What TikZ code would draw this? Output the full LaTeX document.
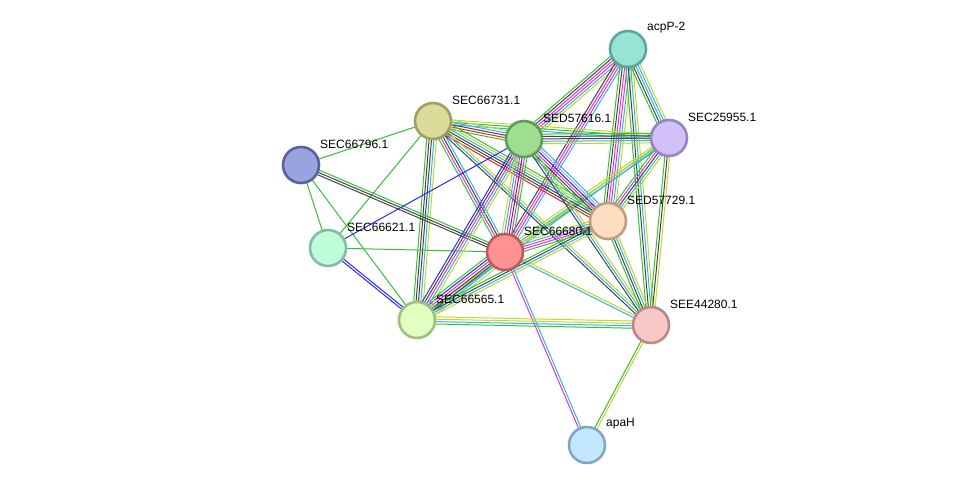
\documentclass[tikz,border=0pt]{standalone}
\usepackage{fontspec}
\setmainfont{Liberation Sans}
\usetikzlibrary{calc}
\pgfdeclarelayer{bg}
\pgfdeclarelayer{paper}
\pgfsetlayers{paper,bg,main}
\definecolor{eG}{HTML}{33C233}
\definecolor{eY}{HTML}{C4D62C}
\definecolor{eC}{HTML}{33B5E0}
\definecolor{eM}{HTML}{E033E0}
\definecolor{eK}{HTML}{444444}
\definecolor{eB}{HTML}{2A2AF0}
\definecolor{eR}{HTML}{F02222}
\definecolor{eL}{HTML}{AAA6F2}
\tikzset{
  prot/.style={circle, minimum size=36pt, inner sep=0pt, line width=2.6pt},
  plabel/.style={anchor=west, font=\fontsize{12}{12}\selectfont, inner sep=0pt, text=black},
  eline/.style={line width=1.0pt}
}
\newcommand\sedge[3]{%
  \foreach \c [count=\i] in {#3} {\xdef\nn{\i}}%
  \foreach \c [count=\i] in {#3} {%
    \pgfmathsetmacro\off{(\i-(\nn+1)/2)*2.4}%
    \draw[eline, color=e\c] ($(#1)!\off pt!90:(#2)$) -- ($(#2)!\off pt!-90:(#1)$);
  }%
}
\newcommand\prot[6]{% name, x, y, fill, draw, label
  \definecolor{#1F}{HTML}{#4}\definecolor{#1D}{HTML}{#5}%
  \node[prot, fill=#1F, draw=#1D] (#1) at (#2,#3) {};
  \node[plabel] (#1-l) at (#2+19,#3-21) {#6};
}
\begin{document}
\begin{tikzpicture}[x=1pt,y=-1pt]
\begin{pgfonlayer}{paper}
\fill[white] (0,0) rectangle (975,491);
\end{pgfonlayer}
\useasboundingbox (0,0) rectangle (975,491);
\prot{acp}{628}{49}{99E2D6}{5BA699}{acpP-2}
\prot{s731}{433}{121}{DDDB99}{A09F60}{SEC66731.1}
\prot{s616}{524}{139}{9FDD91}{5E9E56}{SED57616.1}
\prot{s955}{669}{138}{D2C0F8}{9784C2}{SEC25955.1}
\prot{s796}{301}{165}{99A3E0}{5762A0}{SEC66796.1}
\prot{s729}{608}{221}{FDDEC0}{BE9E7E}{SED57729.1}
\prot{s621}{328}{248}{C0FDDA}{80C0A0}{SEC66621.1}
\prot{s680}{505}{252}{FF9292}{C05A5A}{SEC66680.1}
\prot{s565}{417}{320}{E0FFC0}{A0C082}{SEC66565.1}
\prot{s280}{651}{325}{F8C8C8}{BB8888}{SEE44280.1}
\prot{apa}{587}{445}{C2E8FF}{80A8C2}{apaH}
\begin{pgfonlayer}{bg}
\sedge{acp}{s616}{G,K,M,M,C,Y}
\sedge{acp}{s680}{K,M,M,C}
\sedge{acp}{s729}{G,K,M,M,C,Y}
\sedge{acp}{s280}{G,K,C,Y}
\sedge{acp}{s955}{G,K,C,C,Y}
\sedge{s955}{s731}{Y,G,C}
\sedge{s955}{s616}{G,K,K,C,Y}
\sedge{s955}{s729}{G,M,K,C,Y}
\sedge{s955}{s680}{Y,C,G}
\sedge{s955}{s280}{G,K,Y}
\sedge{s955}{s565}{Y,C}
\sedge{s731}{s796}{G}
\sedge{s731}{s621}{G}
\sedge{s731}{s565}{G,K,K,C,Y}
\sedge{s731}{s680}{G,M,K,C}
\sedge{s731}{s616}{G,R,K,C,Y}
\sedge{s731}{s729}{R,K,K,C,Y,G}
\sedge{s731}{s280}{K,C,Y}
\sedge{s796}{s680}{K,K,G}
\sedge{s796}{s621}{G}
\sedge{s796}{s565}{G}
\sedge{s621}{s616}{B}
\sedge{s621}{s680}{G}
\sedge{s621}{s565}{B,B}
\sedge{s680}{s616}{G,M,K,M,C,Y}
\sedge{s680}{s729}{G,M,M,C,Y}
\sedge{s680}{s565}{G,B,M,K,K,C,Y}
\sedge{s680}{s280}{C,Y}
\sedge{s680}{apa}{M,C}
\sedge{s616}{s729}{G,K,M,B,L,C}
\sedge{s616}{s280}{K,C,Y}
\sedge{s616}{s565}{B,K,M,C,Y}
\sedge{s729}{s280}{G,K,C,Y}
\sedge{s729}{s565}{G,K,C,Y}
\sedge{s565}{s280}{G,C,Y,Y}
\sedge{s280}{apa}{G,Y}
\end{pgfonlayer}
\end{tikzpicture}
\end{document}
